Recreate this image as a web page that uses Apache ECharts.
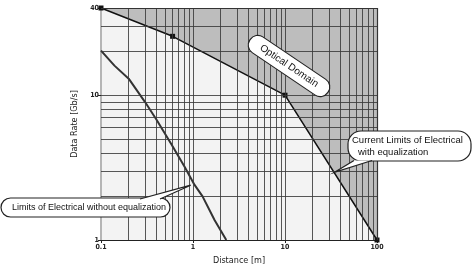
<!DOCTYPE html>
<html><head><meta charset="utf-8">
<script src="https://cdn.jsdelivr.net/npm/echarts@6/dist/echarts.min.js"></script>
<style>html,body{margin:0;padding:0;background:#fff}#c{width:473px;height:270px}</style>
</head><body><div id="c"></div>
<script>
// ---- data ----
const xGridValues = [0.2,0.3,0.4,0.5,0.6,0.7,0.8,0.9,1,2,3,4,5,6,7,8,9,10,20,30,40,50,60,70,80,90];
const yGridValues = [2,3,4,5,6,7,8,9,10,20,30];
const opticalX = [0.1, 0.6, 10, 100];
const opticalY = [40, 25.5, 10, 1];
const electricalX = [0.1, 0.14, 0.2, 0.3, 0.4, 0.58, 0.81, 1.04, 1.27, 1.72, 2.3];
const electricalY = [20.3, 16.0, 13.0, 9.0, 6.8, 4.6, 3.2, 2.4, 2.0, 1.37, 1.0];
const labelOptical = 'Optical Domain';
const labelWithEq = ['Current Limits of Electrical', 'with equalization'];
const labelWithoutEq = 'Limits of Electrical without equalization';
const tipWithEq = [34.3, 2.93];
const tipWithoutEq = [0.944, 2.39];

const chart = echarts.init(document.getElementById('c'), null, {renderer:'canvas'});
const zip = (a,b) => a.map((v,i)=>[v,b[i]]);
const axFont = {fontFamily:'DejaVu Sans Condensed', fontSize:7, fontWeight:'bold', color:'#222'};

const gridLines = [];
xGridValues.forEach(v => gridLines.push({xAxis:v}));
yGridValues.forEach(v => gridLines.push({yAxis:v}));
gridLines.push({yAxis:40, lineStyle:{color:'#333', width:1.2, opacity:1}});
gridLines.push({xAxis:100, lineStyle:{color:'#333', width:1.2, opacity:1}});

chart.setOption({
  animation:false,
  grid:{left:101, right:96, top:8, bottom:26, show:true, backgroundColor:'#f3f3f3', borderWidth:0},
  xAxis:{type:'log', logBase:10, min:0.1, max:100,
    name:'Distance [m]', nameLocation:'middle', nameGap:16,
    nameTextStyle:{fontFamily:'DejaVu Sans Condensed', fontSize:9, color:'#222'},
    axisLine:{lineStyle:{color:'#222', width:1}},
    axisTick:{show:true, length:3, lineStyle:{color:'#222'}},
    axisLabel:Object.assign({margin:4}, axFont),
    splitLine:{show:false}},
  yAxis:{type:'log', logBase:10, min:1, max:40,
    name:'Data Rate [Gb/s]', nameLocation:'middle', nameGap:10, nameRotate:90,
    nameTextStyle:{fontFamily:'DejaVu Sans Condensed', fontSize:9, color:'#222'},
    axisLine:{show:true, lineStyle:{color:'#b5b5b5', width:2}},
    axisTick:{show:true, length:3, lineStyle:{color:'#222'}},
    axisLabel:Object.assign({margin:2, showMaxLabel:true}, axFont),
    splitLine:{show:false}},
  series:[
    {type:'line', data:[[0.1,1]], symbol:'none', z:1, lineStyle:{width:0}, silent:true,
      markLine:{silent:true, symbol:['none','none'], label:{show:false}, animation:false,
        lineStyle:{color:'#3a3a3a', width:1, type:'solid', opacity:0.85}, data:gridLines}},
    {type:'line', data:zip(opticalX, opticalY), z:3, symbol:'rect', symbolSize:5,
      itemStyle:{color:'#111'}, lineStyle:{color:'#111', width:1.5},
      areaStyle:{origin:'end', color:'rgba(128,128,128,0.68)'}},
    {type:'line', data:zip(electricalX, electricalY), z:4, symbol:'none',
      lineStyle:{color:'#333', width:2}}
  ]
});

function bubble(rect, r, lines, fontSize, base, tip, textPos){
  const [x,y,w,h] = rect;
  const els = [
    {type:'rect', shape:{x:x,y:y,width:w,height:h,r:r}, style:{fill:'#fff', stroke:'#222', lineWidth:1.2}, z:100},
    {type:'polygon', shape:{points:[base[0], tip, base[1]]}, style:{fill:'#fff', stroke:null}, z:101},
    {type:'polyline', shape:{points:[base[0], tip, base[1]]}, style:{fill:null, stroke:'#222', lineWidth:1.2}, z:102}
  ];
  lines.forEach((t,i)=>{
    els.push({type:'text', z:103, style:{text:t, x:textPos[i][0], y:textPos[i][1], align:'left', verticalAlign:'middle',
      font:fontSize+'px "Liberation Sans", Arial, sans-serif', fill:'#111'}});
  });
  return els;
}

const tip1 = chart.convertToPixel({xAxisIndex:0, yAxisIndex:0}, tipWithEq);
const tip2 = chart.convertToPixel({xAxisIndex:0, yAxisIndex:0}, tipWithoutEq);

let elements = [];
elements = elements.concat(bubble([348,131,123,30], 13, labelWithEq, 9.5, [[354,160.5],[372,160.5]], tip1, [[352,140.5],[358,152.5]]));
elements = elements.concat(bubble([1,198,169,19], 9.5, [labelWithoutEq], 9, [[140,199],[160,199]], tip2, [[12,207.5]]));
elements.push({type:'group', x:289, y:66, rotation:-34*Math.PI/180, z:100, children:[
  {type:'rect', shape:{x:-47,y:-9.5,width:94,height:19,r:9}, style:{fill:'#fff', stroke:'#222', lineWidth:1.2}, z:100},
  {type:'text', z:101, style:{text:labelOptical, x:0, y:0, align:'center', verticalAlign:'middle',
    font:'10px "Liberation Sans", Arial, sans-serif', fill:'#111'}}
]});
chart.setOption({graphic:{elements:elements}});
</script>
</body></html>
